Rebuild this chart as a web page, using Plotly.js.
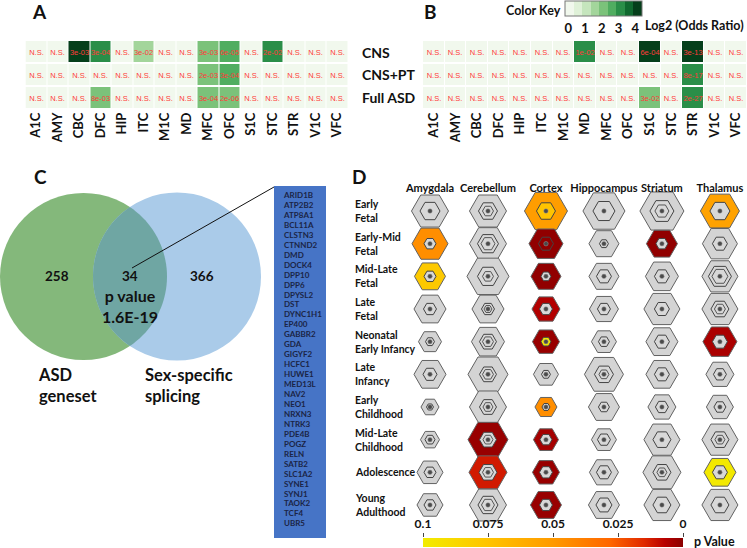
<!DOCTYPE html>
<html><head><meta charset="utf-8">
<script src="https://cdn.plot.ly/plotly-3.0.1.min.js"></script>
<style>html,body{margin:0;padding:0;background:#fff}#chart{width:747px;height:548px}</style>
</head><body><div id="chart"></div>
<script>
const W = 747, H = 548;
const FONT = 'Lato, "Open Sans", sans-serif';

// ---------- Panels A / B ----------
const brainRegions = ['A1C','AMY','CBC','DFC','HIP','ITC','M1C','MD','MFC','OFC','S1C','STC','STR','V1C','VFC'];
const genesets = ['CNS','CNS+PT','Full ASD'];
const log2OrA = [
  [0,0,4.2,3.1,0,1.5,0,0,2.0,2.6,0,3.1,0,0,0],
  [0,0,0,0,0,0,0,0,2.0,2.5,0,0,0,0,0],
  [0,0,0,2.0,0,0,0,0,2.0,2.0,0,0,0,0,0]
];
const pLabelA = [
  ['N.S.','N.S.','3e-03','3e-04','N.S.','3e-02','N.S.','N.S.','3e-03','6e-05','N.S.','2e-02','N.S.','N.S.','N.S.'],
  ['N.S.','N.S.','N.S.','N.S.','N.S.','N.S.','N.S.','N.S.','2e-03','3e-04','N.S.','N.S.','N.S.','N.S.','N.S.'],
  ['N.S.','N.S.','N.S.','8e-03','N.S.','N.S.','N.S.','N.S.','3e-04','2e-06','N.S.','N.S.','N.S.','N.S.','N.S.']
];
const log2OrB = [
  [0,0,0,0,0,0,0,3.3,0,0,4.2,0,4.3,0,0],
  [0,0,0,0,0,0,0,0,0,0,0,0,3.3,0,0],
  [0,0,0,0,0,0,0,0,0,0,2.3,0,3.3,0,0]
];
const pLabelB = [
  ['N.S.','N.S.','N.S.','N.S.','N.S.','N.S.','N.S.','1e-02','N.S.','N.S.','6e-04','N.S.','3e-13','N.S.','N.S.'],
  ['N.S.','N.S.','N.S.','N.S.','N.S.','N.S.','N.S.','N.S.','N.S.','N.S.','N.S.','N.S.','8e-17','N.S.','N.S.'],
  ['N.S.','N.S.','N.S.','N.S.','N.S.','N.S.','N.S.','N.S.','N.S.','N.S.','3e-02','N.S.','2e-27','N.S.','N.S.']
];
const keyColors = ['#f1f8ed','#dff1d8','#c5e5bd','#a3d59b','#7bc27a','#50ad60','#2a8e48','#10692f','#053f1b'];
const keyTicks = [0,1,2,3,4];

// ---------- Panel C ----------
const vennCounts = [258, 34, 366];
const vennSets = ['ASD<br>geneset', 'Sex-specific<br>splicing'];
const overlapP = '1.6E-19';
const genes = ['ARID1B','ATP2B2','ATP8A1','BCL11A','CLSTN3','CTNND2','DMD','DOCK4','DPP10','DPP6','DPYSL2','DST','DYNC1H1','EP400','GABBR2','GDA','GIGYF2','HCFC1','HUWE1','MED13L','NAV2','NEO1','NRXN3','NTRK3','PDE4B','POGZ','RELN','SATB2','SLC1A2','SYNE1','SYNJ1','TAOK2','TCF4','UBR5'];

// ---------- Panel D ----------
const dRegions = ['Amygdala','Cerebellum','Cortex','Hippocampus','Striatum','Thalamus'];
const dStages = ['Early Fetal','Early-Mid Fetal','Mid-Late Fetal','Late Fetal','Neonatal Early Infancy','Late Infancy','Early Childhood','Mid-Late Childhood','Adolescence','Young Adulthood'];
const dStageLabels = ['Early<br>Fetal','Early-Mid<br>Fetal','Mid-Late<br>Fetal','Late<br>Fetal','Neonatal<br>Early Infancy','Late<br>Infancy','Early<br>Childhood','Mid-Late<br>Childhood','Adolescence','Young<br>Adulthood'];
const outerSize = [
  [37,37,43,42,44,39],
  [36,37,34,30,31,35],
  [31,42,30,30,33,36],
  [32,32,28,29,36,36],
  [23,33,27,25,32,34],
  [32,40,25,39,32,28],
  [18,37,22,31,28,27],
  [19,40,25,25,36,36],
  [26,38,27,29,38,32],
  [26,37,31,31,36,36]
];
const outerP = [
  [null,null,0.052,null,null,0.055],
  [0.045,null,0.001,null,0.001,null],
  [0.078,null,0.001,null,null,null],
  [null,null,0.006,null,null,null],
  [null,null,0.002,null,null,0.005],
  [null,null,null,null,null,null],
  [null,null,0.045,null,null,null],
  [null,0.002,0.004,null,null,null],
  [null,0.012,0.002,null,null,0.098],
  [null,null,0.002,null,null,null]
];
const innerSize = [
  [20,19,19,22,24,20],
  [12,21,15,9,12,15],
  [12,21,10,15,15,23],
  [13,13,13,13,15,18],
  [9,17,10,11,15,15],
  [14,17,9,19,15,13],
  [7,17,8,11,13,12],
  [10,17,12,13,18,18],
  [12,18,13,15,18,15],
  [12,20,13,16,18,18]
];
const innerP = [
  [null,null,0.075,null,null,null],
  [null,null,0.001,null,null,null],
  [null,null,null,null,null,null],
  [null,null,null,null,null,null],
  [null,null,0.097,null,null,null],
  [null,null,null,null,null,null],
  [null,null,null,null,null,null],
  [null,null,null,null,null,null],
  [null,null,null,null,null,null],
  [null,null,null,null,null,null]
];
const ringSize = [
  [0,11,0,0,14,0],
  [0,14,0,0,0,0],
  [0,11,0,0,0,16],
  [0,8,0,0,0,11],
  [0,11,0,0,0,0],
  [0,11,0,10,0,0],
  [0,10,0,0,0,0],
  [0,10,0,0,0,10],
  [0,11,0,0,10,0],
  [0,13,0,0,0,0]
];
const pTickVals = [0.1, 0.075, 0.05, 0.025, 0];
const pTickText = ['0.1','0.075','0.05','0.025','0'];

// ---------- helpers ----------
const px = v => v / W;
const py = v => 1 - v / H;
const keyScale = [];
keyColors.forEach((c, i) => { keyScale.push([i / keyColors.length, c]); keyScale.push([(i + 1) / keyColors.length, c]); });
const pScale = [[0,'#f2ec00'],[0.25,'#ffc400'],[0.5,'#ff9a00'],[0.72,'#ff6600'],[0.85,'#e02a00'],[0.93,'#b80000'],[1,'#8b0000']];
const boldTick = (size) => ({family: FONT, size: size, weight: 'bold', color: '#111'});

const traces = [];
const hmCommon = {
  type: 'heatmap', x: brainRegions, y: genesets, texttemplate: '%{text}',
  textfont: {family: '"Liberation Sans", Arial, sans-serif', size: 7.5, color: '#ff3b3b'},
  colorscale: keyScale, zmin: -0.2, zmax: 4.4, xgap: 1, ygap: 2, hoverinfo: 'skip'
};
traces.push(Object.assign({}, hmCommon, {z: log2OrA, text: pLabelA, xaxis: 'x', yaxis: 'y', showscale: false}));
traces.push(Object.assign({}, hmCommon, {z: log2OrB, text: pLabelB, xaxis: 'x2', yaxis: 'y2', showscale: true,
  colorbar: {orientation: 'h', x: px(603.5), xanchor: 'center', y: py(0.5), yanchor: 'top',
    len: 77, lenmode: 'pixels', thickness: 15, thicknessmode: 'pixels', xpad: 0, ypad: 0,
    outlinewidth: 1, outlinecolor: '#777', tickvals: keyTicks, ticks: '', tickfont: boldTick(13)}}));

// Panel D points
const gx=[],gy=[],gs=[], cx=[],cy=[],cs=[],cv=[];
const igx=[],igy=[],igs=[], icx=[],icy=[],ics=[],icv=[];
const rx=[],ry=[],rs=[], dx=[],dy=[];
dStages.forEach((st, r) => {
  dRegions.forEach((rg, c) => {
    if (outerP[r][c] === null) { gx.push(rg); gy.push(st); gs.push(outerSize[r][c]); }
    else { cx.push(rg); cy.push(st); cs.push(outerSize[r][c]); cv.push(0.1 - outerP[r][c]); }
    if (innerP[r][c] === null) { igx.push(rg); igy.push(st); igs.push(innerSize[r][c]); }
    else { icx.push(rg); icy.push(st); ics.push(innerSize[r][c]); icv.push(0.1 - innerP[r][c]); }
    if (ringSize[r][c] > 0) { rx.push(rg); ry.push(st); rs.push(ringSize[r][c]); }
    dx.push(rg); dy.push(st);
  });
});
const dCommon = {type: 'scatter', mode: 'markers', xaxis: 'x3', yaxis: 'y3', cliponaxis: false, hoverinfo: 'skip', showlegend: false};
traces.push(Object.assign({}, dCommon, {x: gx, y: gy, marker: {symbol: 'hexagon2', size: gs, opacity: 1, color: '#d4d4d4', line: {color: '#626262', width: 1}}}));
traces.push(Object.assign({}, dCommon, {x: cx, y: cy, marker: {symbol: 'hexagon2', size: cs, opacity: 1, color: cv, colorscale: pScale, cmin: 0, cmax: 0.1,
  line: {color: '#626262', width: 1}, showscale: true,
  colorbar: {orientation: 'h', x: px(553), xanchor: 'center', y: py(538), yanchor: 'top', len: 260, lenmode: 'pixels',
    thickness: 9, thicknessmode: 'pixels', xpad: 0, ypad: 0, outlinewidth: 0, showticklabels: false, ticks: ''}}}));
traces.push(Object.assign({}, dCommon, {x: igx, y: igy, marker: {symbol: 'hexagon2', size: igs, opacity: 1, color: '#d8d8d8', line: {color: '#444', width: 1}}}));
traces.push(Object.assign({}, dCommon, {x: icx, y: icy, marker: {symbol: 'hexagon2', size: ics, opacity: 1, color: icv, colorscale: pScale, cmin: 0, cmax: 0.1, line: {color: '#444', width: 1}}}));
traces.push(Object.assign({}, dCommon, {x: rx, y: ry, marker: {symbol: 'hexagon2-open', size: rs, opacity: 1, color: '#555', line: {color: '#555', width: 1}}}));
traces.push(Object.assign({}, dCommon, {x: dx, y: dy, marker: {symbol: 'circle', size: 4.5, opacity: 1, color: '#4a4a4a', line: {color: '#999', width: 0.5}}}));

// p value tick axis (empty trace so the axis is drawn)
traces.push({type: 'scatter', x: [], y: [], xaxis: 'x5', yaxis: 'y5', showlegend: false, hoverinfo: 'skip'});

// gene list text
traces.push({type: 'scatter', mode: 'text', xaxis: 'x4', yaxis: 'y4', showlegend: false, hoverinfo: 'skip', cliponaxis: false,
  x: genes.map(() => 284), y: genes.map((g, i) => 196 + i * 9.95), text: genes, textposition: 'middle right',
  textfont: {family: FONT, size: 8, weight: 'bold', color: '#1b2445'}});

// ---------- shapes ----------
const c1 = {x: 83.5, y: 276.5, r: 83.5}, c2 = {x: 177, y: 276.5, r: 84};
const dd = c2.x - c1.x;
const aa = (dd * dd + c1.r * c1.r - c2.r * c2.r) / (2 * dd);
const hh = Math.sqrt(c1.r * c1.r - aa * aa);
const t1 = Math.atan2(hh, aa), t2 = Math.atan2(hh, dd - aa);
const pts = [];
for (let i = 0; i <= 40; i++) { const t = -t1 + 2 * t1 * i / 40; pts.push([c1.x + c1.r * Math.cos(t), c1.y + c1.r * Math.sin(t)]); }
for (let i = 0; i <= 40; i++) { const t = Math.PI - t2 + 2 * t2 * i / 40; pts.push([c2.x + c2.r * Math.cos(t), c2.y + c2.r * Math.sin(t)]); }
const lensPath = 'M' + pts.map(p => p[0].toFixed(2) + ',' + p[1].toFixed(2)).join('L') + 'Z';

const shapes = [
  {type: 'circle', xref: 'x4', yref: 'y4', x0: c1.x - c1.r, x1: c1.x + c1.r, y0: c1.y - c1.r, y1: c1.y + c1.r, fillcolor: '#84b87b', line: {width: 0}, layer: 'below'},
  {type: 'circle', xref: 'x4', yref: 'y4', x0: c2.x - c2.r, x1: c2.x + c2.r, y0: c2.y - c2.r, y1: c2.y + c2.r, fillcolor: '#aacbe9', line: {width: 0}, layer: 'below'},
  {type: 'path', xref: 'x4', yref: 'y4', path: lensPath, fillcolor: '#6fa6a3', line: {width: 0}, layer: 'below'},
  {type: 'rect', xref: 'x4', yref: 'y4', x0: 274, x1: 326, y0: 186, y1: 538, fillcolor: '#4674c6', line: {width: 0}, layer: 'below'},
  {type: 'line', xref: 'x4', yref: 'y4', x0: 132, y0: 268, x1: 274, y1: 187, line: {color: '#111', width: 1}}
];

// ---------- annotations ----------
const ann = [];
const txt = (x, y, t, size, opts) => Object.assign({xref: 'paper', yref: 'paper', x: px(x), y: py(y), text: t, showarrow: false,
  font: {family: FONT, size: size, color: '#111', weight: 'bold'}, xanchor: 'center', yanchor: 'middle'}, opts || {});
ann.push(txt(39, 11, 'A', 19));
ann.push(txt(431, 11, 'B', 19));
ann.push(txt(40, 176, 'C', 19));
ann.push(txt(359, 176, 'D', 19));
ann.push(txt(533, 10, 'Color Key', 12.5));
ann.push(txt(643, 25, 'Log2 (Odds Ratio)', 12.5, {xanchor: 'left'}));
genesets.forEach((g, i) => ann.push(txt(360, 52 + i * 23, g, 14, {xanchor: 'left'})));
// Venn texts
ann.push(txt(57, 276, String(vennCounts[0]), 13.5));
ann.push(txt(130, 276, String(vennCounts[1]), 13.5));
ann.push(txt(202, 276, String(vennCounts[2]), 13.5));
ann.push(txt(130, 306, 'p value<br>' + overlapP, 16));
ann.push(txt(36, 385, vennSets[0], 16.5, {xanchor: 'left', align: 'left'}));
ann.push(txt(143, 385, vennSets[1], 16.5, {xanchor: 'left', align: 'left'}));
// D stage labels
dStageLabels.forEach((l, r) => {
  ann.push({xref: 'paper', yref: 'y3', x: px(353), y: r, text: l, showarrow: false, xanchor: 'left', yanchor: 'middle', align: 'left',
    font: {family: FONT, size: 10.5, color: '#111', weight: 'bold'}});
});
ann.push(txt(692, 541, 'p Value', 12.5, {xanchor: 'left'}));

const hidden = {visible: false, fixedrange: true};
const layout = {
  width: W, height: H, margin: {l: 0, r: 0, t: 0, b: 0, autoexpand: false},
  paper_bgcolor: '#fff', plot_bgcolor: 'rgba(0,0,0,0)', showlegend: false,
  font: {family: FONT},
  xaxis: {domain: [px(25.5), px(348)], anchor: 'y', tickangle: -90, ticks: '', tickfont: boldTick(13), showgrid: false, zeroline: false, showline: false, fixedrange: true},
  yaxis: Object.assign({domain: [py(109), py(40)], anchor: 'x', autorange: 'reversed'}, hidden),
  xaxis2: {domain: [px(423), 1], anchor: 'y2', tickangle: -90, ticks: '', tickfont: boldTick(13), showgrid: false, zeroline: false, showline: false, fixedrange: true},
  yaxis2: Object.assign({domain: [py(109), py(40)], anchor: 'x2', autorange: 'reversed'}, hidden),
  xaxis3: {domain: [px(401), px(746)], anchor: 'y3', type: 'category', categoryorder: 'array', categoryarray: dRegions, range: [-0.5, 5.45],
    side: 'top', ticks: '', tickangle: 0, tickfont: boldTick(11), showgrid: false, zeroline: false, showline: false, fixedrange: true},
  yaxis3: Object.assign({domain: [py(521.3), py(194.7)], anchor: 'x3', type: 'category', categoryorder: 'array', categoryarray: dStages, range: [9.5, -0.5]}, hidden),
  xaxis4: Object.assign({domain: [0, 1], range: [0, W], anchor: 'y4'}, hidden),
  yaxis4: Object.assign({domain: [0, 1], range: [H, 0], anchor: 'x4'}, hidden),
  xaxis5: {domain: [px(423), px(683)], anchor: 'y5', range: [0.1, 0], side: 'top', tickvals: pTickVals, ticktext: pTickText, tickangle: 0,
    ticks: 'outside', ticklen: 4, tickcolor: '#444', tickfont: boldTick(12), showgrid: false, zeroline: false, showline: false, fixedrange: true},
  yaxis5: Object.assign({domain: [py(547), py(538)], anchor: 'x5', range: [0, 1]}, hidden),
  shapes: shapes,
  annotations: ann
};
Plotly.newPlot('chart', traces, layout, {displayModeBar: false, staticPlot: true});
</script>
</body></html>
